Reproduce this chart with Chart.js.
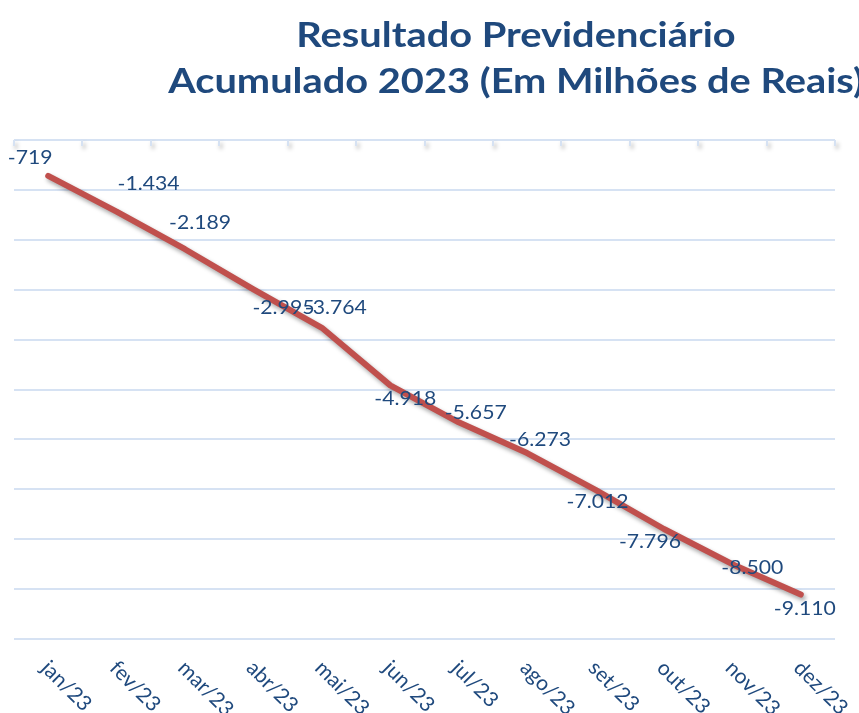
<!DOCTYPE html>
<html lang="pt-BR">
<head>
    <meta charset="UTF-8">
    <title>Resultado Previdenciário Acumulado 2023</title>
    <script src="https://cdn.jsdelivr.net/npm/chart.js"></script>
    <style>
        body { margin: 0; background: #fff; overflow: hidden; }
        #wrap { position: relative; width: 859px; height: 713px; overflow: hidden; }
        #title {
            position: absolute; left: 0; top: 11px; width: 1032px;
            text-align: center; color: #1F497D;
            font: bold 34px Lato, sans-serif; line-height: 46px;
            white-space: nowrap;
            transform: scaleX(1.17); transform-origin: 516px 0;
        }
    </style>
</head>
<body>
    <div id="wrap">
        <canvas id="resultChart" width="859" height="713"></canvas>
        <div id="title">Resultado Previdenciário<br>Acumulado 2023 (Em Milhões de Reais)</div>
    </div>

    <script>
        // dados (milhões de reais)
        const meses = ['jan/23', 'fev/23', 'mar/23', 'abr/23', 'mai/23', 'jun/23',
                       'jul/23', 'ago/23', 'set/23', 'out/23', 'nov/23', 'dez/23'];
        const acumulado = [-719, -1434, -2189, -2995, -3764, -4918,
                           -5657, -6273, -7012, -7796, -8500, -9110];

        // posição dos rótulos em relação ao ponto (como no Excel)
        const labelOffsets = [[-18, -18], [32, -28], [15, -27], [30, 18], [14, -20], [15, 13],
                              [17, -10], [13, -13], [2, 12], [-14, 13], [20, 3], [4, 14]];

        const textColor = '#1F497D';
        const gridColor = '#D6E2F3';

        function formatBR(v) {
            const s = Math.abs(v).toString().replace(/\B(?=(\d{3})+(?!\d))/g, '.');
            return (v < 0 ? '-' : '') + s;
        }

        // sombra na linha
        const shadowPlugin = {
            id: 'shadow',
            beforeDatasetsDraw(chart) {
                const ctx = chart.ctx;
                ctx.save();
                ctx.shadowColor = 'rgba(0,0,0,0.35)';
                ctx.shadowBlur = 4;
                ctx.shadowOffsetX = 2;
                ctx.shadowOffsetY = 3;
            },
            afterDatasetsDraw(chart) {
                chart.ctx.restore();
            }
        };

        // marcas do eixo, rótulos de dados e rótulos das categorias
        const extrasPlugin = {
            id: 'extras',
            beforeDatasetsDraw(chart) {
                const ctx = chart.ctx;
                const x = chart.scales.x;
                const y0 = chart.scales.y.getPixelForValue(0);
                const half = (x.getPixelForValue(1) - x.getPixelForValue(0)) / 2;
                ctx.save();
                ctx.strokeStyle = gridColor;
                ctx.lineWidth = 2;
                for (let i = 0; i <= meses.length; i++) {
                    const px = Math.round(x.getPixelForValue(i) - half);
                    ctx.beginPath();
                    ctx.moveTo(px, y0);
                    ctx.lineTo(px, y0 + 6);
                    ctx.stroke();
                }
                ctx.restore();
            },
            afterDatasetsDraw(chart) {
                const ctx = chart.ctx;
                const meta = chart.getDatasetMeta(0);
                const x = chart.scales.x;
                ctx.save();
                ctx.fillStyle = textColor;
                ctx.font = '20px Lato, sans-serif';
                ctx.textAlign = 'center';
                ctx.textBaseline = 'middle';
                meta.data.forEach((pt, i) => {
                    const [dx, dy] = labelOffsets[i];
                    ctx.save();
                    ctx.translate(pt.x + dx, pt.y + dy);
                    ctx.scale(1.06, 1);
                    ctx.fillText(formatBR(acumulado[i]), 0, 0);
                    ctx.restore();
                });

                ctx.font = '21px Lato, sans-serif';
                ctx.textAlign = 'left';
                ctx.textBaseline = 'top';
                meses.forEach((m, i) => {
                    ctx.save();
                    ctx.translate(x.getPixelForValue(i) + 4, chart.chartArea.bottom + 18);
                    ctx.rotate(Math.PI / 4);
                    ctx.fillText(m, 0, 0);
                    ctx.restore();
                });
                ctx.restore();
            }
        };

        const ctx = document.getElementById('resultChart').getContext('2d');
        new Chart(ctx, {
            type: 'line',
            data: {
                labels: meses,
                datasets: [{
                    data: acumulado,
                    borderColor: '#C0504D',
                    borderWidth: 6,
                    borderCapStyle: 'round',
                    borderJoinStyle: 'round',
                    pointRadius: 0,
                    tension: 0
                }]
            },
            options: {
                responsive: false,
                animation: false,
                layout: { padding: { top: 140, left: 14, right: 24, bottom: 74 } },
                plugins: {
                    legend: { display: false },
                    tooltip: { enabled: false }
                },
                scales: {
                    x: { display: false, offset: true },
                    y: {
                        min: -10000,
                        max: 0,
                        ticks: { display: false, stepSize: 1000 },
                        border: { display: false },
                        grid: { color: gridColor, lineWidth: 2, drawTicks: false }
                    }
                }
            },
            plugins: [shadowPlugin, extrasPlugin]
        });
    </script>
</body>
</html>
